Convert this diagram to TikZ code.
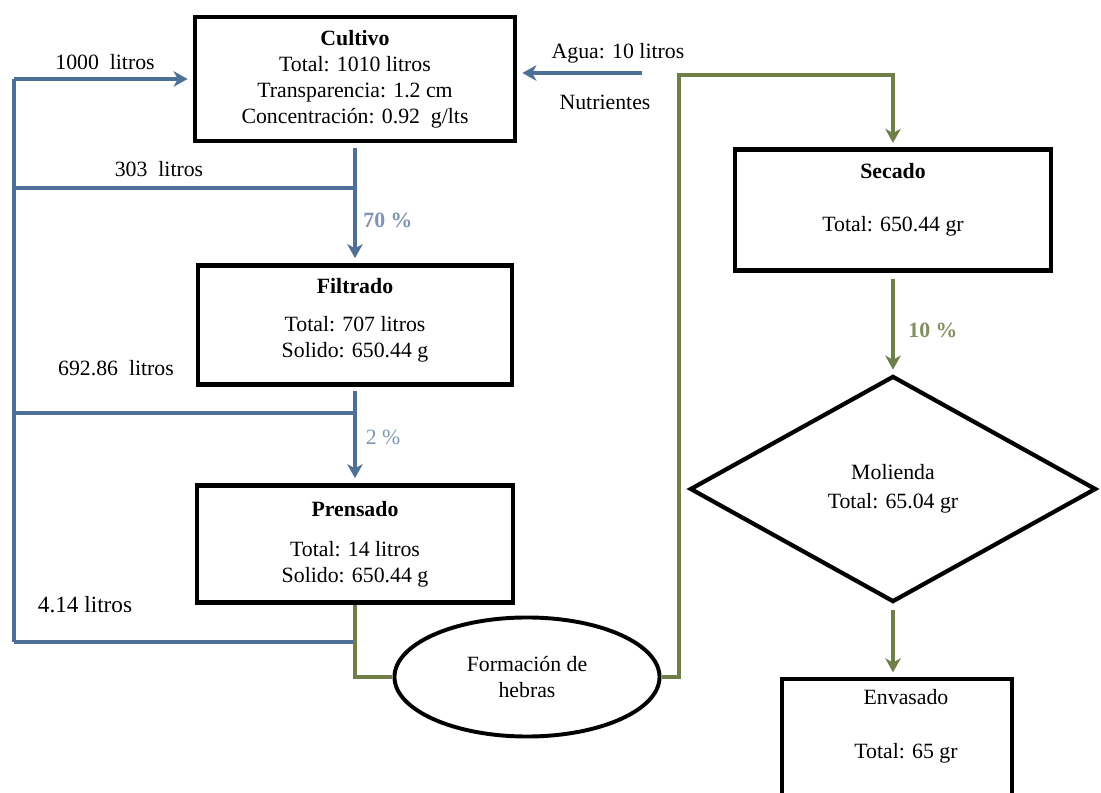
\documentclass[tikz,border=0pt]{standalone}
\usepackage{fontspec}
\setmainfont{Liberation Serif}
\usetikzlibrary{shapes.geometric,arrows.meta}
\definecolor{azul}{RGB}{79,112,150}
\definecolor{azulclaro}{RGB}{125,148,178}
\definecolor{oliva}{RGB}{112,126,72}
\definecolor{olivaclaro}{RGB}{132,143,95}
\begin{document}
\begin{tikzpicture}[x=0.025cm,y=-0.025cm]
%%%%%%%%%%%%%%%%%%%%%%%%%%%%%%%%%%%%%%%%%%%%%%%%%%%%%%%%
% STYLE
\tikzstyle{every node}=[font=\fontsize{15.5}{18.5}\selectfont]
\tikzstyle{proceso}=[rectangle,draw,line width=3.4pt,align=center,inner sep=0pt]
\tikzstyle{forma}=[ellipse,draw,line width=2.8pt,align=center,inner sep=0pt]
\tikzstyle{decision}=[diamond,draw,line width=3pt,align=center,inner sep=0pt]
\tikzstyle{txt}=[align=center]
\tikzstyle{pct}=[font=\fontsize{15.5}{18.5}\selectfont\bfseries]
\tikzstyle{linea}=[azul,line width=2.2pt]
\tikzstyle{flujo}=[linea,-{Stealth[length=10pt,width=11pt,inset=3pt]},shorten >=3.5pt]
\tikzstyle{verde}=[oliva,line width=2.2pt]
\tikzstyle{flujov}=[verde,-{Stealth[length=10pt,width=11pt,inset=3pt]},shorten >=3pt]

\useasboundingbox (0,0) rectangle (1101,793);
\clip (0,0) rectangle (1101,793);

%%%%%%%%%%%%%%%%%%%%%%%%%%%%%%%%%%%%%%%%%%%%%%%%%%%%%%%%
% NODES
\node[proceso,minimum width=8cm,minimum height=3.1cm] (cultivo) at (355,79)
  {\textbf{Cultivo}\\Total: 1010 litros\\Transparencia: 1.2 cm\\Concentración: 0.92~ g/lts};
\node[proceso,minimum width=7.85cm,minimum height=2.975cm,text depth=10pt] (filtrado) at (355,325)
  {\textbf{Filtrado}\\[8pt]Total: 707 litros\\Solido: 650.44 g};
\node[proceso,minimum width=7.9cm,minimum height=2.925cm] (prensado) at (355,544)
  {\textbf{Prensado}\\[10pt]Total: 14 litros\\Solido: 650.44 g};
\node[forma,minimum width=6.625cm,minimum height=2.975cm] (hebras) at (527,677)
  {Formación de\\hebras};

\node[proceso,minimum width=7.9cm,minimum height=3.025cm,text depth=18pt] (secado) at (893,210)
  {\textbf{Secado}\\[19pt]Total: 650.44 gr};
\node[decision,minimum width=10.15cm,minimum height=5.65cm] (molienda) at (893,489)
  {Molienda\\[2pt]Total: 65.04 gr};
\node[proceso,minimum width=5.75cm,minimum height=3.75cm] (envasado) at (897,754) {};
\node[txt] (tenv) at (906,726) {Envasado\\[20pt]Total: 65 gr};

\node[txt] (t1000) at (105,62) {1000~ litros};
\node[txt] (t303) at (159,169) {303~ litros};
\node[txt] (t692) at (116,368) {692.86~ litros};
\node[txt,font=\fontsize{16.5}{19}\selectfont] (t414) at (85,605) {4.14 litros};
\node[txt] (tagua) at (618,53) {Agua: 10 litros};
\node[txt] (tnutri) at (605,102) {Nutrientes};

\node[pct,text=azulclaro] (p70) at (388,220) {70 \%};
\node[txt,text=azulclaro] (p2) at (383,437) {2 \%};
\node[pct,text=olivaclaro] (p10) at (933,330) {10 \%};

\coordinate (retSup) at (14,79);
\coordinate (retInf) at (14,642);
\coordinate (r1) at (355,188);
\coordinate (r2) at (355,413);
\coordinate (agua) at (642,73);
\coordinate (subida) at (679,75);

%%%%%%%%%%%%%%%%%%%%%%%%%%%%%%%%%%%%%%%%%%%%%%%%%%%%%%%%
% LINKS
\draw[linea] (retInf) -- (retSup);
\draw[flujo] (retSup) -- (cultivo.west);
\draw[flujo] (agua) -- (agua -| cultivo.east);

\draw[flujo,shorten <=3pt] (cultivo) -- (filtrado);
\draw[linea] (r1) -- (r1 -| retSup);
\draw[flujo,shorten <=3pt] (filtrado) -- (prensado);
\draw[linea] (r2) -- (r2 -| retSup);
\draw[linea] (retInf) -- (retInf -| prensado.south);

\draw[verde] (prensado.south) |- (hebras.west);
\draw[flujov] (hebras.east) -| (subida) -| (secado.north);
\draw[flujov,shorten <=4pt] (secado) -- (molienda);
\draw[flujov,shorten <=4pt] (molienda.south) -- (molienda.south |- envasado.north);

\end{tikzpicture}
\end{document}
